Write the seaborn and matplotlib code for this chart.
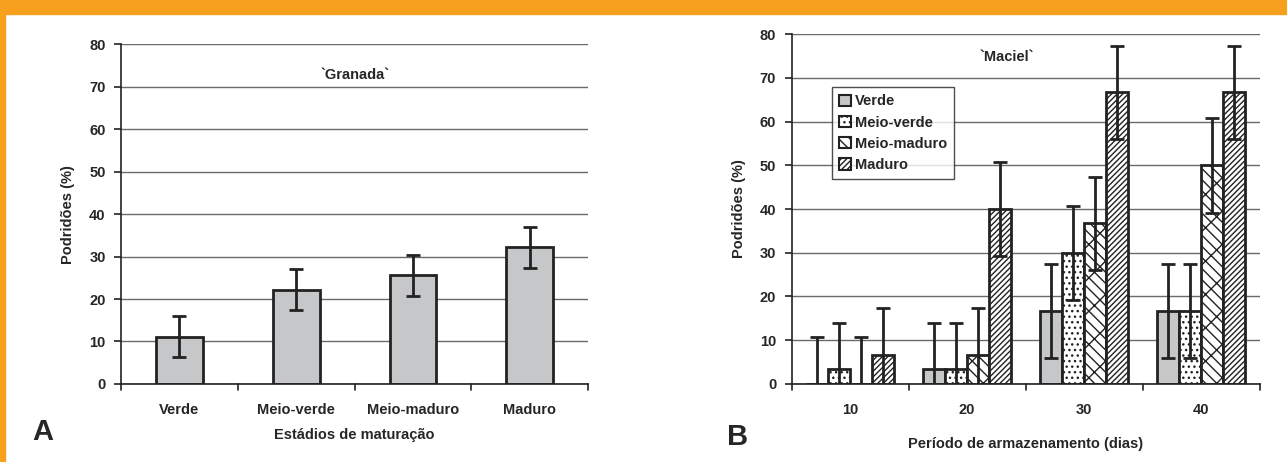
import numpy as np
import pandas as pd
import matplotlib
matplotlib.use("Agg")
import matplotlib.pyplot as plt
from matplotlib.patches import Patch, Rectangle
import seaborn as sns

# Panel A - 'Granada'
stages = ["Verde", "Meio-verde", "Meio-maduro", "Maduro"]
granada_rot = [11.1, 22.2, 25.6, 32.2]
granada_err = [4.8, 4.8, 4.8, 4.8]

# Panel B - 'Maciel'
days = ["10", "20", "30", "40"]
maciel_verde = [0.0, 3.3, 16.7, 16.7]
maciel_meio_verde = [3.3, 3.3, 30.0, 16.7]
maciel_meio_maduro = [0.0, 6.7, 36.7, 50.0]
maciel_maduro = [6.7, 40.0, 66.7, 66.7]
maciel_err_verde = [10.7, 10.7, 10.7, 10.7]
maciel_err_meio_verde = [10.7, 10.7, 10.8, 10.7]
maciel_err_meio_maduro = [10.7, 10.7, 10.7, 10.8]
maciel_err_maduro = [10.7, 10.8, 10.7, 10.7]

sns.set_theme(style="white")
plt.rcParams["font.family"] = ["Liberation Sans Narrow", "Liberation Sans", "DejaVu Sans"]
plt.rcParams["font.weight"] = "bold"
plt.rcParams["hatch.linewidth"] = 1.0

EDGE = "#222222"
GRAY = "#c6c7c9"
GRID = "#6a6a6a"
ORANGE = "#f7a01e"
FS = 10.5

fig = plt.figure(figsize=(12.87, 4.62), dpi=100)
fig.patches.append(Rectangle((0, 0.97), 1, 0.03, transform=fig.transFigure, color=ORANGE, zorder=0))
fig.patches.append(Rectangle((0, 0), 0.0035, 1, transform=fig.transFigure, color=ORANGE, zorder=0))


def style_axes(ax, ncat):
    ax.set_ylim(0, 80)
    ax.set_xlim(-0.5, ncat - 0.5)
    ax.set_yticks(range(0, 81, 10))
    ax.yaxis.grid(True, color=GRID, lw=1)
    ax.xaxis.grid(False)
    ax.set_axisbelow(True)
    for s in ["top", "right"]:
        ax.spines[s].set_visible(False)
    for s in ["left", "bottom"]:
        ax.spines[s].set_color(EDGE)
        ax.spines[s].set_linewidth(1.2)
    ax.tick_params(axis="y", left=True, length=5, width=1.2, color=EDGE, labelsize=FS, pad=6)
    ax.tick_params(axis="x", bottom=False, labelsize=FS, pad=8)
    # category separator ticks
    for b in np.arange(-0.5, ncat, 1.0):
        ax.plot([b, b], [0, -1.5], color=EDGE, lw=1.2, clip_on=False)
    for lab in ax.get_xticklabels() + ax.get_yticklabels():
        lab.set_fontweight("bold")


# ---- Panel A ----
axA = fig.add_axes([0.094, 0.169, 0.363, 0.735])
dfA = pd.DataFrame({"stage": stages, "rot": granada_rot})
sns.barplot(data=dfA, x="stage", y="rot", ax=axA, color=GRAY, width=0.4,
            edgecolor=EDGE, linewidth=2, saturation=1, errorbar=None)
centers = [p.get_x() + p.get_width() / 2 for p in axA.patches]
axA.errorbar(centers, granada_rot, yerr=granada_err, fmt="none", ecolor=EDGE,
             elinewidth=2, capsize=5, capthick=2, zorder=5)
style_axes(axA, len(stages))
axA.set_xlabel("Estádios de maturação", fontsize=FS, fontweight="bold", labelpad=8)
axA.set_ylabel("Podridões (%)", fontsize=FS, fontweight="bold", labelpad=10)
axA.text(0.5, 0.91, "`Granada`", transform=axA.transAxes, ha="center", va="center",
         fontsize=FS, fontweight="bold")
fig.text(0.033, 0.065, "A", fontsize=21, fontweight="bold", ha="center", va="center")

# ---- Panel B ----
axB = fig.add_axes([0.615, 0.169, 0.364, 0.757])
series = {"Verde": (maciel_verde, maciel_err_verde),
          "Meio-verde": (maciel_meio_verde, maciel_err_meio_verde),
          "Meio-maduro": (maciel_meio_maduro, maciel_err_meio_maduro),
          "Maduro": (maciel_maduro, maciel_err_maduro)}
rows = []
for name, (vals, errs) in series.items():
    for d, v, e in zip(days, vals, errs):
        rows.append({"dias": d, "estadio": name, "rot": v, "err": e})
dfB = pd.DataFrame(rows)
fills = {"Verde": GRAY, "Meio-verde": "white", "Meio-maduro": "white", "Maduro": "white"}
hatches = {"Verde": "", "Meio-verde": "...", "Meio-maduro": "\\\\x", "Maduro": "//////"}
sns.barplot(data=dfB, x="dias", y="rot", hue="estadio", ax=axB, palette=fills,
            width=0.75, edgecolor=EDGE, linewidth=2, saturation=1, errorbar=None,
            legend=False)
bars = [p for p in axB.patches if p.get_width() > 0]
for i, name in enumerate(series):
    grp = bars[i * len(days):(i + 1) * len(days)]
    xs = []
    for p in grp:
        p.set_hatch(hatches[name])
        xs.append(p.get_x() + p.get_width() / 2)
    vals = dfB[dfB.estadio == name]["rot"].values
    errs = dfB[dfB.estadio == name]["err"].values
    axB.errorbar(xs, vals, yerr=errs, fmt="none", ecolor=EDGE, elinewidth=2,
                 capsize=5, capthick=2, zorder=5)
style_axes(axB, len(days))
axB.set_xlabel("Período de armazenamento (dias)", fontsize=FS, fontweight="bold", labelpad=14)
axB.set_ylabel("Podridões (%)", fontsize=FS, fontweight="bold", labelpad=10)
axB.text(0.46, 0.935, "`Maciel`", transform=axB.transAxes, ha="center", va="center",
         fontsize=FS, fontweight="bold")
handles = [Patch(facecolor=fills[n], edgecolor=EDGE, hatch=hatches[n], lw=1.5, label=n)
           for n in series]
leg = axB.legend(handles=handles, loc="upper left", bbox_to_anchor=(0.07, 0.87),
                 frameon=True, fancybox=False, edgecolor=EDGE, fontsize=FS,
                 handlelength=0.8, handleheight=0.8, handletextpad=0.3,
                 labelspacing=0.5, borderpad=0.5)
leg.get_frame().set_linewidth(1)
for t in leg.get_texts():
    t.set_fontweight("bold")
fig.text(0.573, 0.055, "B", fontsize=21, fontweight="bold", ha="center", va="center")

fig.savefig("out.png", dpi=100, facecolor="white")
